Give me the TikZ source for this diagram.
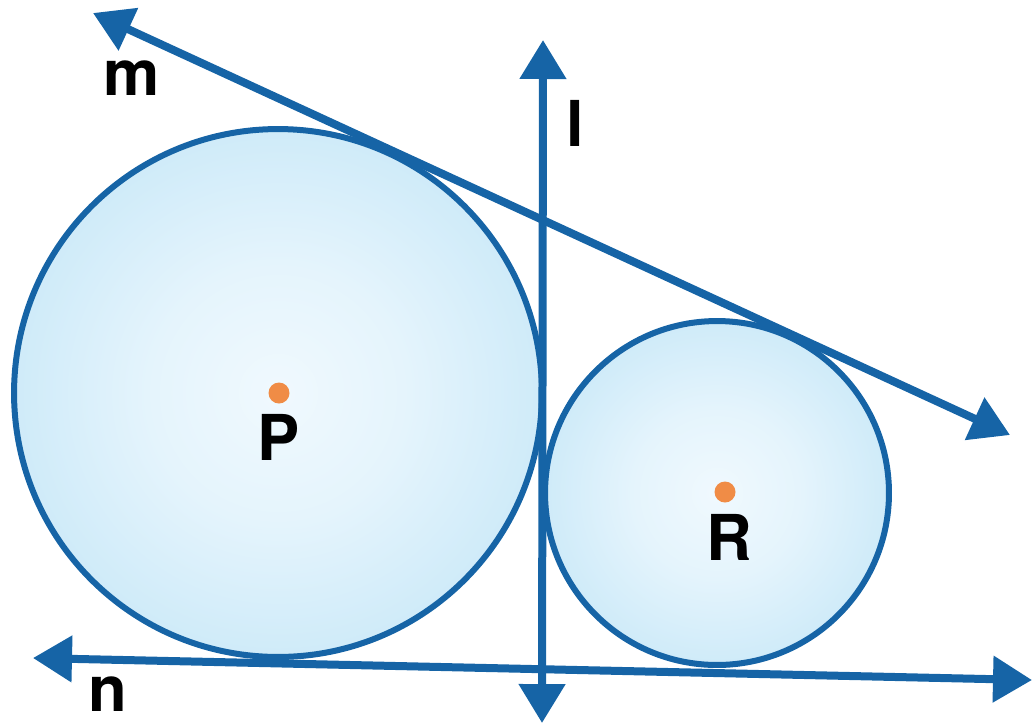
\documentclass[tikz,border=0pt]{standalone}
\usepackage{fontspec}
\setmainfont{TeX Gyre Heros}
\usetikzlibrary{arrows.meta}
\definecolor{lineblue}{RGB}{22,100,166}
\definecolor{bubout}{RGB}{165,217,242}
\definecolor{bubin}{RGB}{240,249,254}
\definecolor{dotorange}{RGB}{240,140,70}
\pgfdeclareradialshading{bubble}{\pgfpoint{0bp}{0bp}}{color(0bp)=(bubin); color(12bp)=(bubin!85!bubout); color(50bp)=(bubout); color(70bp)=(bubout)}
\tikzset{
  bub/.style={circle, draw=lineblue, line width=0.12cm, shading=bubble, inner sep=0pt, minimum size=#1},
  geoline/.style={draw=lineblue, line width=0.16cm, {Triangle[width=0.9cm,length=0.78cm]}-{Triangle[width=0.9cm,length=0.78cm]}},
  cdot/.style={circle, fill=dotorange, inner sep=0pt, minimum size=0.42cm},
  lbl/.style={font=\fontsize{36}{40}\selectfont\bfseries, text=black, inner sep=0pt, anchor=base}
}
\begin{document}
\begin{tikzpicture}[x=0.02cm,y=-0.02cm]
\useasboundingbox (0,0) rectangle (1034,725);
% circles
\node[bub=10.56cm] (P) at (278,393) {};
\node[bub=6.88cm] (R) at (717,493) {};
% centres
\node[cdot] (Pc) at (279,393) {};
\node[cdot] (Rc) at (725,492) {};
% line end points
\coordinate (m1) at (93,13);
\coordinate (m2) at (1010,435);
\coordinate (l1) at (543,40);
\coordinate (l2) at (542,723);
\coordinate (n1) at (33,658);
\coordinate (n2) at (1032,680);
\draw[geoline] (l1) -- (l2);
\draw[geoline] (m1) -- (m2);
\draw[geoline] (n1) -- (n2);
% labels
\node[lbl] (lm) at (132,95) {m};
\node[lbl] (ll) at (575,146) {l};
\node[lbl] (ln) at (108,711) {n};
\node[lbl] (lP) at (279,460) {P};
\node[lbl] (lR) at (729,560) {R};
\end{tikzpicture}
\end{document}
